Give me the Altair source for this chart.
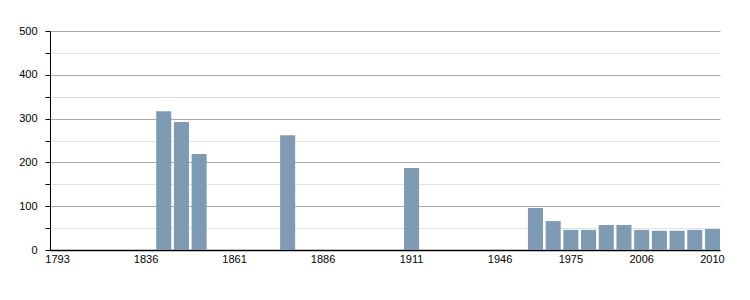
import altair as alt
import pandas as pd

years = ["1793", "1800", "1806", "1821", "1831", "1836", "1841", "1846", "1851", "1856",
         "1861", "1866", "1872", "1876", "1881", "1886", "1891", "1896", "1901", "1906",
         "1911", "1921", "1926", "1931", "1936", "1946", "1954", "1962", "1968", "1975",
         "1982", "1990", "1999", "2006", "2007", "2008", "2009", "2010"]

bar_years = ["1841", "1846", "1851", "1876", "1911", "1962", "1968", "1975", "1982",
             "1990", "1999", "2006", "2007", "2008", "2009", "2010"]
population = [317, 292, 219, 262, 187, 96, 66, 46, 46, 57, 57, 46, 44, 44, 46, 48]

tick_labels = ["1793", "1836", "1861", "1886", "1911", "1946", "1975", "2006", "2010"]

df = pd.DataFrame({"year": bar_years, "pop": population})

chart = alt.Chart(df).mark_bar(color="#7f9bb3").encode(
    x=alt.X("year:N", scale=alt.Scale(domain=years, paddingInner=0.15, paddingOuter=0),
            axis=alt.Axis(values=tick_labels, title=None, labelAngle=0, ticks=False,
                          domainColor="#000000", domainWidth=1.5, labelColor="#000000",
                          labelFont="Liberation Sans", labelFontSize=11, labelPadding=3,
                          grid=False)),
    y=alt.Y("pop:Q", scale=alt.Scale(domain=[0, 500], nice=False),
            axis=alt.Axis(values=list(range(0, 501, 50)), title=None,
                          labelExpr="datum.value % 100 === 0 ? datum.label : ''",
                          grid=True,
                          gridColor={"condition": {"test": "datum.value % 100 === 0", "value": "#aaaaaa"},
                                     "value": "#e2e2e2"},
                          tickColor="#000000", tickSize=5, domainColor="#000000",
                          labelColor="#000000", labelFont="Liberation Sans",
                          labelFontSize=11, labelPadding=8)),
).properties(
    width=670, height=219,
    autosize=alt.AutoSizeParams(type="none"),
    padding={"left": 50, "top": 31, "right": 30, "bottom": 50},
).configure_view(stroke=None)

chart.save("out.html", embed_options={"renderer": "svg", "actions": False})
